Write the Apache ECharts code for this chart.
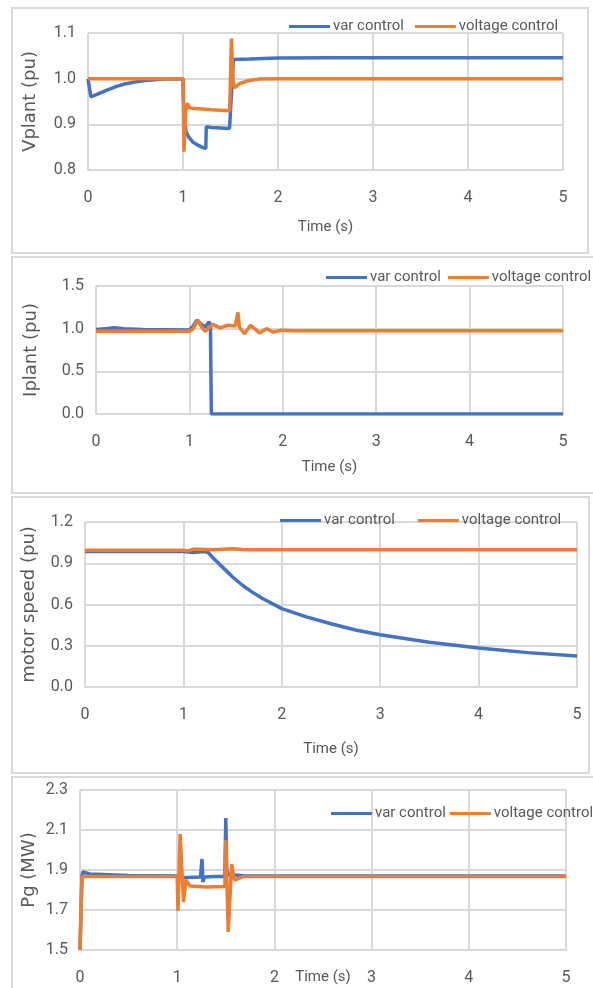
<!DOCTYPE html>
<html>
<head>
<meta charset="utf-8">
<script src="https://cdn.jsdelivr.net/npm/echarts@6/dist/echarts.min.js"></script>
<style>
  html, body { margin: 0; padding: 0; background: #fff; }
  #chart { width: 593px; height: 988px; }
</style>
</head>
<body>
<div id="chart"></div>
<script>
// x tick labels (same for all four panels)
const timeTicks = [0, 1, 2, 3, 4, 5];
const seriesNames = ['var control', 'voltage control'];

// Panel 1 - Vplant (pu)
const vplantVarT = [0, 0.03, 0.1, 0.2, 0.3, 0.4, 0.5, 0.6, 0.8, 1.0, 1.005, 1.03, 1.06, 1.1, 1.15, 1.2, 1.24, 1.245, 1.3, 1.49, 1.5, 1.52, 1.53, 1.7, 2.0, 2.5, 5.0];
const vplantVar  = [1.0, 0.96, 0.966, 0.975, 0.983, 0.989, 0.993, 0.996, 0.999, 1.0, 0.95, 0.885, 0.872, 0.862, 0.855, 0.85, 0.847, 0.895, 0.893, 0.891, 0.93, 1.0, 1.042, 1.043, 1.045, 1.046, 1.046];
const vplantVoltT = [0, 1.0, 1.01, 1.03, 1.045, 1.07, 1.1, 1.3, 1.49, 1.5, 1.51, 1.525, 1.54, 1.57, 1.6, 1.7, 1.8, 2.0, 5.0];
const vplantVolt  = [1.0, 1.0, 0.84, 0.93, 0.946, 0.936, 0.935, 0.932, 0.93, 1.0, 1.088, 1.0, 0.98, 0.985, 0.99, 0.996, 0.999, 1.0, 1.0];

// Panel 2 - Iplant (pu)
const iplantVarT = [0, 0.1, 0.2, 0.3, 0.5, 1.0, 1.04, 1.08, 1.12, 1.17, 1.21, 1.225, 1.235, 5.0];
const iplantVar  = [0.99, 1.0, 1.01, 1.0, 0.99, 0.985, 1.03, 1.1, 1.06, 1.02, 1.08, 1.05, 0.0, 0.0];
const iplantVoltT = [0, 1.0, 1.04, 1.09, 1.13, 1.17, 1.25, 1.33, 1.41, 1.49, 1.52, 1.535, 1.59, 1.655, 1.75, 1.825, 1.9, 1.98, 2.1, 5.0];
const iplantVolt  = [0.97, 0.97, 1.0, 1.1, 1.02, 0.97, 1.05, 1.01, 1.04, 1.03, 1.19, 1.02, 0.94, 1.04, 0.95, 1.0, 0.96, 0.98, 0.975, 0.975];

// Panel 3 - motor speed (pu)
const speedVarT = [0, 1.0, 1.1, 1.2, 1.25, 1.3, 1.4, 1.5, 1.6, 1.7, 1.8, 2.0, 2.25, 2.5, 2.75, 3.0, 3.5, 4.0, 4.5, 5.0];
const speedVar  = [0.985, 0.985, 0.978, 0.985, 0.98, 0.94, 0.87, 0.8, 0.74, 0.69, 0.645, 0.57, 0.51, 0.46, 0.415, 0.38, 0.325, 0.283, 0.25, 0.225];
const speedVoltT = [0, 1.0, 1.05, 1.1, 1.3, 1.5, 1.6, 1.7, 5.0];
const speedVolt  = [0.995, 0.995, 0.99, 1.003, 0.998, 1.005, 1.0, 0.998, 0.998];

// Panel 4 - Pg (MW)
const pgVarT = [0, 0.02, 0.03, 0.1, 0.5, 1.0, 1.05, 1.1, 1.24, 1.255, 1.265, 1.28, 1.4, 1.49, 1.5, 1.51, 1.53, 1.6, 1.7, 5.0];
const pgVar  = [1.5, 1.87, 1.89, 1.88, 1.872, 1.87, 1.86, 1.862, 1.865, 1.955, 1.84, 1.865, 1.868, 1.868, 2.16, 1.9, 1.875, 1.875, 1.87, 1.87];
const pgVoltT = [0, 0.02, 1.0, 1.008, 1.03, 1.065, 1.09, 1.13, 1.3, 1.49, 1.5, 1.525, 1.56, 1.59, 1.68, 5.0];
const pgVolt  = [1.5, 1.867, 1.867, 1.695, 2.08, 1.74, 1.85, 1.82, 1.815, 1.817, 2.05, 1.59, 1.93, 1.85, 1.867, 1.867];

const blue = '#4472C4';
const orange = '#ED7D31';
const gridColor = '#d9d9d9';
const textColor = '#595959';
const narrow = '"Liberation Sans Narrow", Roboto, sans-serif';

function pairs(ts, vs) {
  return ts.map((t, i) => [t, vs[i]]);
}

const panels = [
  { grid: { left: 88, right: 30, top: 33, height: 137 }, y: { min: 0.8, max: 1.1, interval: 0.1 }, yName: 'Vplant (pu)', yGap: 49, xGap: 50,
    legend: { left: 289, top: 19, gap: 11 }, data: [pairs(vplantVarT, vplantVar), pairs(vplantVoltT, vplantVolt)] },
  { grid: { left: 96, right: 30, top: 286, height: 128 }, y: { min: 0, max: 1.5, interval: 0.5 }, yName: 'Iplant (pu)', yGap: 56, xGap: 46,
    legend: { left: 326, top: 270, gap: 7 }, data: [pairs(iplantVarT, iplantVar), pairs(iplantVoltT, iplantVolt)] },
  { grid: { left: 85, right: 16, top: 522, height: 165 }, y: { min: 0, max: 1.2, interval: 0.3 }, yName: 'motor speed (pu)', yGap: 47, xGap: 55,
    legend: { left: 280, top: 513, gap: 23 }, data: [pairs(speedVarT, speedVar), pairs(speedVoltT, speedVolt)] },
  { grid: { left: 80, right: 27, top: 790, height: 160 }, y: { min: 1.5, max: 2.3, interval: 0.2 }, yName: 'Pg (MW)', yGap: 42, xGap: 20,
    legend: { left: 331, top: 806, gap: 4 }, data: [pairs(pgVarT, pgVar), pairs(pgVoltT, pgVolt)] }
];

const option = {
  animation: false,
  backgroundColor: '#fff',
  graphic: [
    { type: 'rect', shape: { x: 12, y: 8, width: 576, height: 245 }, style: { fill: 'none', stroke: gridColor, lineWidth: 2 } },
    { type: 'rect', shape: { x: 12, y: 257, width: 600, height: 236 }, style: { fill: 'none', stroke: gridColor, lineWidth: 2 } },
    { type: 'rect', shape: { x: 12, y: 497, width: 577, height: 276 }, style: { fill: 'none', stroke: gridColor, lineWidth: 2 } },
    { type: 'rect', shape: { x: 12, y: 777, width: 600, height: 230 }, style: { fill: 'none', stroke: gridColor, lineWidth: 2 } }
  ],
  grid: panels.map(p => Object.assign({ outerBoundsMode: 'none', containLabel: false }, p.grid)),
  legend: panels.map(p => ({
    data: seriesNames,
    left: p.legend.left,
    top: p.legend.top,
    width: 500,
    padding: 0,
    icon: 'rect',
    itemWidth: 41,
    itemHeight: 3,
    itemGap: p.legend.gap,
    textStyle: { color: textColor, fontFamily: narrow, fontSize: 15, padding: [0, 0, 0, -2] }
  })),
  xAxis: panels.map((p, i) => ({
    type: 'value',
    gridIndex: i,
    min: timeTicks[0],
    max: timeTicks[timeTicks.length - 1],
    interval: 1,
    name: 'Time (s)',
    nameLocation: 'middle',
    nameGap: p.xGap,
    nameMoveOverlap: false,
    nameTextStyle: { color: textColor, fontFamily: narrow, fontSize: 15 },
    axisLine: { show: true, lineStyle: { color: gridColor, width: 2 } },
    axisTick: { show: false },
    axisLabel: { color: textColor, fontFamily: narrow, fontSize: 16, margin: 20 },
    splitLine: { show: true, lineStyle: { color: gridColor, width: 2 } }
  })),
  yAxis: panels.map((p, i) => ({
    type: 'value',
    gridIndex: i,
    min: p.y.min,
    max: p.y.max,
    interval: p.y.interval,
    name: p.yName,
    nameLocation: 'middle',
    nameGap: p.yGap,
    nameMoveOverlap: false,
    nameTextStyle: { color: textColor, fontFamily: '"DejaVu Sans", sans-serif', fontSize: 18 },
    axisLine: { show: false },
    axisTick: { show: false },
    axisLabel: { color: textColor, fontFamily: narrow, fontSize: 16, margin: 12, formatter: v => v.toFixed(1) },
    splitLine: { show: true, lineStyle: { color: gridColor, width: 2 } }
  })),
  series: []
};

panels.forEach((p, i) => {
  seriesNames.forEach((name, k) => {
    option.series.push({
      name: name,
      type: 'line',
      xAxisIndex: i,
      yAxisIndex: i,
      data: p.data[k],
      showSymbol: false,
      symbol: 'none',
      lineStyle: { width: 3.5, color: k === 0 ? blue : orange },
      itemStyle: { color: k === 0 ? blue : orange },
      z: 2 + k
    });
  });
});

const chart = echarts.init(document.getElementById('chart'));
chart.setOption(option);
</script>
</body>
</html>
